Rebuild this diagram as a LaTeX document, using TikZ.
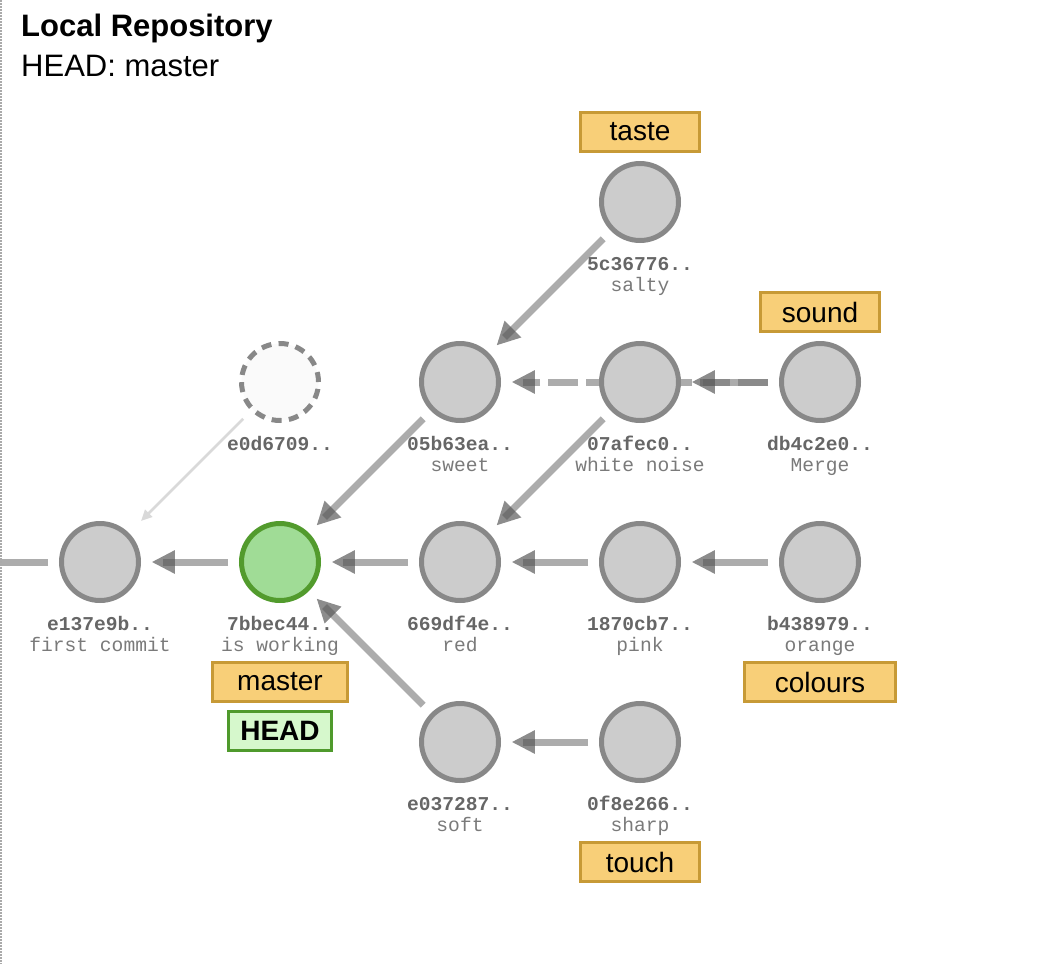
\documentclass[tikz,border=0pt]{standalone}
\usepackage{fontspec}
\setmainfont{Liberation Sans}
\newfontfamily\monof{Liberation Mono}
\usetikzlibrary{arrows.meta,calc,backgrounds}
\definecolor{cfill}{HTML}{CCCCCC}
\definecolor{cdraw}{HTML}{888888}
\definecolor{gfill}{HTML}{A0DC96}
\definecolor{gdraw}{HTML}{529B2D}
\definecolor{bfill}{HTML}{F8CF78}
\definecolor{bdraw}{HTML}{C79A36}
\definecolor{hfill}{HTML}{D6F8CC}
\definecolor{hdraw}{HTML}{4F9A2C}
\definecolor{lcol}{HTML}{727272}
\definecolor{tcol}{HTML}{555555}
\definecolor{hashcol}{HTML}{666666}
\definecolor{msgcol}{HTML}{7A7A7A}
\definecolor{ghost}{HTML}{D9D9D9}
\definecolor{borderc}{HTML}{AAAAAA}
\begin{document}
\begin{tikzpicture}[x=1pt,y=-1pt,
  commit/.style={circle,fill=cfill,draw=cdraw,line width=5pt,minimum size=77pt,inner sep=0pt},
  headc/.style={commit,fill=gfill,draw=gdraw},
  ghostc/.style={commit,fill=white!98!black,dash pattern=on 10pt off 7.3pt},
  hashlbl/.style={anchor=base,inner sep=0pt,text=hashcol,font=\monof\bfseries\fontsize{19.6}{22}\selectfont},
  msglbl/.style={anchor=base,inner sep=0pt,text=msgcol,font=\monof\fontsize{19.6}{22}\selectfont},
  branch/.style={rectangle,fill=bfill,draw=bdraw,line width=3pt,minimum height=39pt,minimum width=#1,inner sep=0pt,font=\fontsize{28}{30}\selectfont},
  headlbl/.style={branch=#1,fill=hfill,draw=hdraw,font=\bfseries\fontsize{28}{30}\selectfont},
  link/.style={line width=7pt,draw=lcol,draw opacity=0.59,shorten <=11pt,shorten >=22pt},
  dlink/.style={link,dash pattern=on 30pt off 8pt},
  tiponly/.style={draw=tcol,draw opacity=0,fill opacity=0.68,line width=0.1pt,shorten <=11pt,shorten >=11pt,-{Triangle[length=23pt,width=24pt]}},
  ghostlink/.style={draw=ghost,line width=2.5pt,shorten <=11pt,shorten >=17pt,-{Triangle[length=11pt,width=10pt]}}
]
\useasboundingbox (0,0) rectangle (1060,964);
\draw[borderc,line width=1.5pt,dash pattern=on 1.5pt off 1.5pt] (1,0) -- (1,964);

\node[anchor=base west,inner sep=0pt,font=\bfseries\fontsize{31}{34}\selectfont] (title) at (21,36) {Local Repository};
\node[anchor=base west,inner sep=0pt,font=\fontsize{31}{34}\selectfont] (headinfo) at (21,76) {HEAD: master};

% commits
\node[commit] (e137) at (100,562) {};
\node[headc]  (7bbe) at (280,562) {};
\node[commit] (669d) at (460,562) {};
\node[commit] (1870) at (640,562) {};
\node[commit] (b438) at (820,562) {};
\node[commit] (05b6) at (460,382) {};
\node[commit] (07af) at (640,382) {};
\node[commit] (db4c) at (820,382) {};
\node[commit] (5c36) at (640,202) {};
\node[ghostc] (e0d6) at (280,382) {};
\node[commit] (e037) at (460,742) {};
\node[commit] (0f8e) at (640,742) {};
\coordinate (offl) at (0,562);

% labels
\foreach \n/\h/\m in {e137/e137e9b../first commit, 7bbe/7bbec44../is working, 669d/669df4e../red,
  1870/1870cb7../pink, b438/b438979../orange, 05b6/05b63ea../sweet, 07af/07afec0../white noise,
  db4c/db4c2e0../Merge, 5c36/5c36776../salty, e037/e037287../soft, 0f8e/0f8e266../sharp}{
  \node[hashlbl] (h\n) at ($(\n)+(0,68)$) {\h};
  \node[msglbl] (m\n) at ($(\n)+(0,89)$) {\m};
}
\node[hashlbl] (he0d6) at ($(e0d6)+(0,68)$) {e0d6709..};

% branches
\node[branch=119pt] (taste) at (640,132) {taste};
\node[branch=119pt] (sound) at (820,312) {sound};
\node[branch=135pt] (master) at (280,682) {master};
\node[headlbl=103pt] (HEAD) at (280,731) {HEAD};
\node[branch=151pt] (colours) at (820,682) {colours};
\node[branch=119pt] (touch) at (640,862) {touch};

\begin{pgfonlayer}{background}
  \draw[link,shorten >=0pt] (e137) -- (offl);
  \foreach \a/\b in {7bbe/e137, 669d/7bbe, 1870/669d, b438/1870, 0f8e/e037,
     e037/7bbe, 05b6/7bbe, 07af/669d, 5c36/05b6, db4c/07af}{
    \draw[link] (\a) -- (\b);
  }
  \draw[dlink] (db4c) -- (05b6);
  \foreach \a/\b in {7bbe/e137, 669d/7bbe, 1870/669d, b438/1870, 0f8e/e037,
     e037/7bbe, 05b6/7bbe, 07af/669d, 5c36/05b6, db4c/07af, db4c/05b6}{
    \draw[tiponly] (\a) -- (\b);
  }
  \draw[ghostlink] (e0d6) -- (e137);
\end{pgfonlayer}
\end{tikzpicture}
\end{document}
